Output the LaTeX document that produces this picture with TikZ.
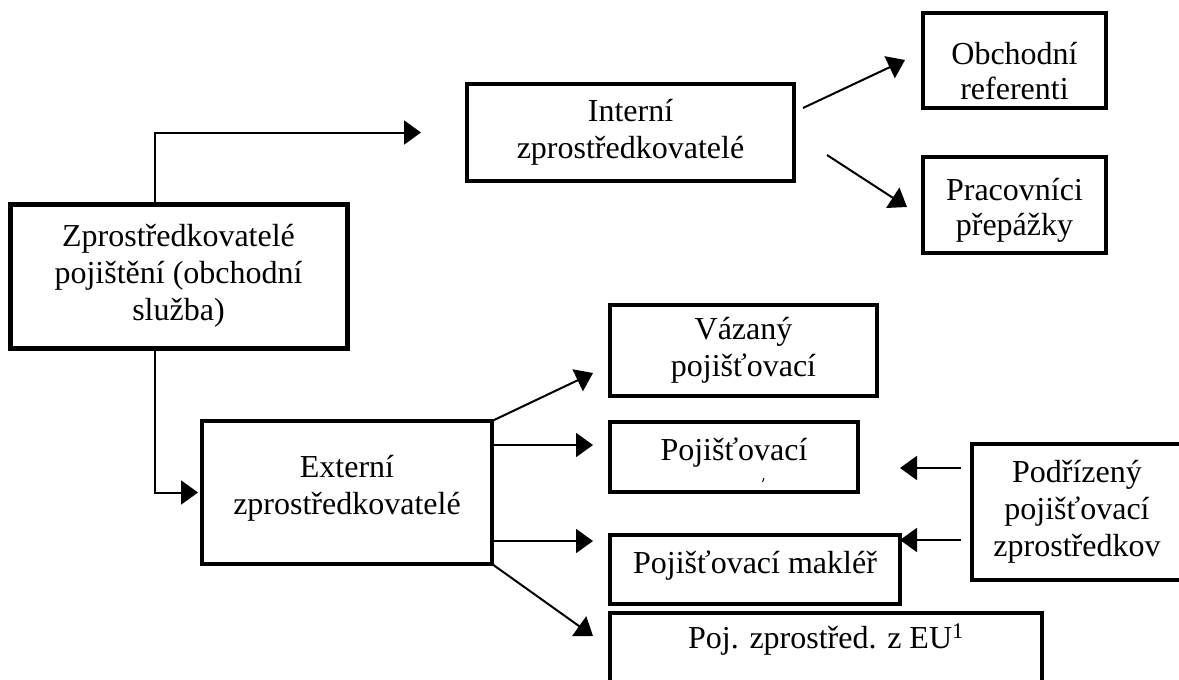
\documentclass[tikz,border=0pt]{standalone}
\usepackage{fontspec}
\setmainfont{Liberation Serif}
\usetikzlibrary{arrows.meta,calc}

\tikzset{
  box/.style={draw, rectangle, line width=3.2pt, inner sep=0pt, outer sep=0pt},
  mainbox/.style={box, line width=5pt},
  lbl/.style={font=\fontsize{32}{37}\selectfont, align=center, inner sep=0pt, outer sep=0pt},
  arr/.style={line width=2pt, -{Triangle[length=17pt,width=24pt]}}
}

\begin{document}
\begin{tikzpicture}[x=1pt, y=-1pt]
\useasboundingbox (0,0) rectangle (1179,680);
\clip (0,0) rectangle (1179,680);

% frames
\node[mainbox, minimum width=337pt, minimum height=144pt] (main) at (178.5,276) {};
\node[box, minimum width=327pt, minimum height=97pt]  (int)  at (630.5,132.5) {};
\node[box, minimum width=183pt, minimum height=95pt]  (obch) at (1014.5,60.5) {};
\node[box, minimum width=183pt, minimum height=96pt]  (prac) at (1014.5,205) {};
\node[box, minimum width=290pt, minimum height=143pt] (ext)  at (347,492.5) {};
\node[box, minimum width=267pt, minimum height=91pt]  (vaz)  at (743.5,350.5) {};
\node[box, minimum width=248pt, minimum height=70pt]  (poj)  at (734,457) {};
\node[box, minimum width=290pt, minimum height=69pt]  (mak)  at (755,569.5) {};
\node[box, minimum width=432pt, minimum height=92pt]  (eu)   at (826,659) {};
\node[box, minimum width=210pt, minimum height=136pt] (pod)  at (1077,512) {};

% texts
\node[lbl] (main-t) at (main.center) {Zprostředkovatelé\\pojištění (obchodní\\služba)};
\node[lbl] (int-t)  at (int.center)  {Interní\\zprostředkovatelé};
\node[lbl, font=\fontsize{32}{35}\selectfont] (obch-t) at ($(obch.center)+(0,11)$) {Obchodní\\referenti};
\node[lbl, font=\fontsize{32}{35}\selectfont] (prac-t) at ($(prac.center)+(0,5)$)  {Pracovníci\\přepážky};
\node[lbl] (ext-t)  at ($(ext.center)+(0,-4.5)$) {Externí\\zprostředkovatelé};
\node[lbl] (vaz-t)  at (vaz.center)  {Vázaný\\pojišťovací};
\node[lbl] (poj-t)  at ($(poj.center)+(0,-4.5)$) {Pojišťovací};
\node[lbl] (mak-t)  at ($(mak.center)+(0,-4)$)   {Pojišťovací makléř};
\node[lbl] (eu-t)   at ($(eu.north)+(0,26.5)$)   {Poj. zprostřed. z EU\textsuperscript{1}};
\node[lbl] (pod-t)  at (pod.center)  {Podřízený\\pojišťovací\\zprostředkov};

% small stroke below the single line of the middle box
\draw[line width=1pt] ($(poj.center)+(28.5,25)$) -- ++(1.5,-4);

% connectors from the main box
\draw[arr] ($(main.north west)+(145,0)$) |- ($(int.west)+(-46,0)$);
\draw[arr] ($(main.south west)+(145,0)$) |- ($(ext.west)+(-4,0)$);

% internal branch
\draw[arr] ($(int.east)+(9,-24.5)$) -- ++(102,-48);
\draw[arr] ($(int.east)+(33,22.5)$) -- ++(80,52);

% external branch
\draw[arr] (ext.north east) -- ++(101,-48);
\draw[arr] ($(ext.north east)+(0,24)$) -- ++(101,0);
\draw[arr] ($(ext.south east)+(0,-23)$) -- ++(101,0);
\draw[arr] (ext.south east) -- ++(101,72);

% subordinate intermediary
\draw[arr] ($(pod.west)+(-11,-44)$) -- ++(-61,0);
\draw[arr] ($(pod.west)+(-11,28)$) -- ++(-61,0);
\end{tikzpicture}
\end{document}
